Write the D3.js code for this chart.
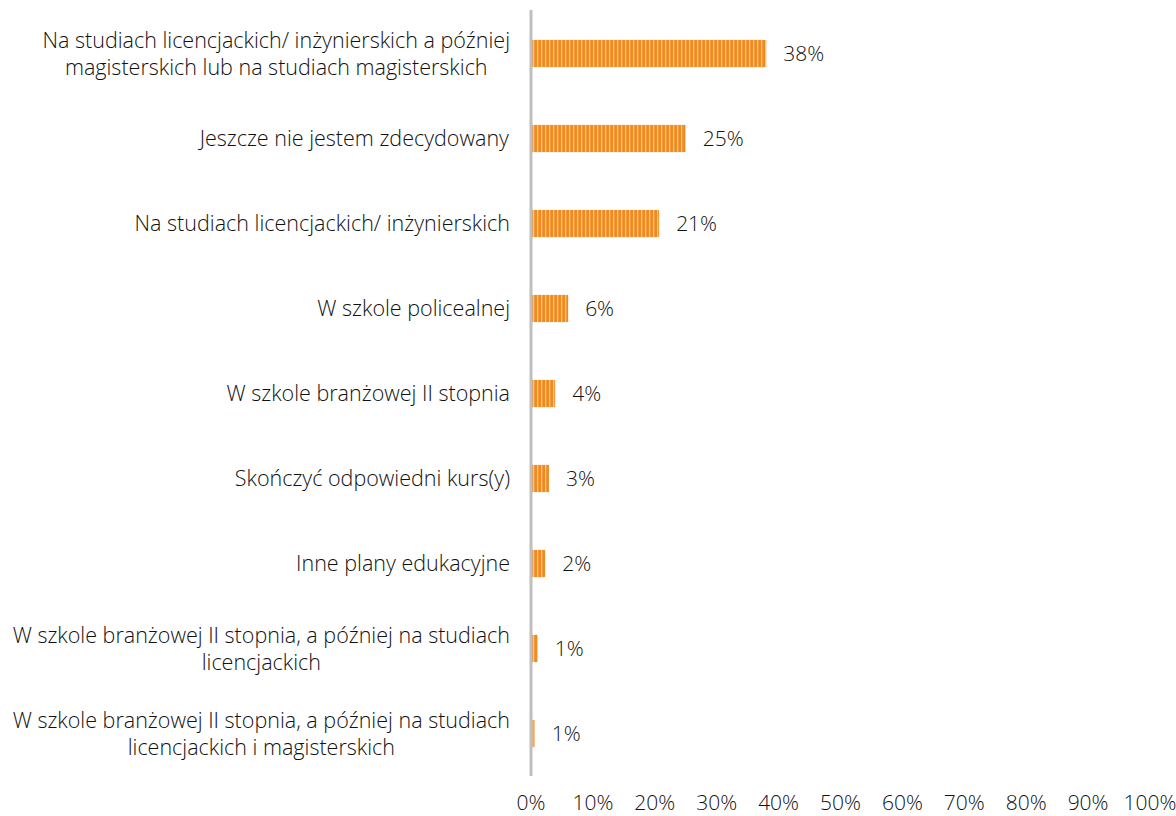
<!DOCTYPE html>
<html>
<head>
<meta charset="utf-8">
<script src="https://cdn.jsdelivr.net/npm/d3@7"></script>
<style>
  body { margin: 0; background: #fff; }
  text { font-family: "Open Sans", sans-serif; font-weight: 300; fill: #111; }
</style>
</head>
<body>
<div id="chart"></div>
<script>
// categories, top to bottom (each entry is a list of label lines)
var categories = [
    ["Na studiach licencjackich/ inżynierskich a później", "magisterskich lub na studiach magisterskich"],
    ["Jeszcze nie jestem zdecydowany"],
    ["Na studiach licencjackich/ inżynierskich"],
    ["W szkole policealnej"],
    ["W szkole branżowej II stopnia"],
    ["Skończyć odpowiedni kurs(y)"],
    ["Inne plany edukacyjne"],
    ["W szkole branżowej II stopnia, a później na studiach", "licencjackich"],
    ["W szkole branżowej II stopnia, a później na studiach", "licencjackich i magisterskich"]
];
var values = [38.0, 25.0, 20.7, 6.0, 3.9, 2.9, 2.3, 1.1, 0.6];
var valueLabels = ["38%", "25%", "21%", "6%", "4%", "3%", "2%", "1%", "1%"];
var ticks = [0, 10, 20, 30, 40, 50, 60, 70, 80, 90, 100];

var screen = {width: 1176, height: 816};
var margins = {top: 11, left: 531, right: 26, bottom: 40};
var graph = {
    width: screen.width - margins.left - margins.right,
    height: screen.height - margins.top - margins.bottom
};

var svg = d3.select("#chart")
    .append("svg")
    .attr("width", screen.width)
    .attr("height", screen.height);

// striped fill like the original
var defs = svg.append("defs");
var pat = defs.append("pattern")
    .attr("id", "stripes")
    .attr("patternUnits", "userSpaceOnUse")
    .attr("width", 4)
    .attr("height", 10);
pat.append("rect").attr("width", 4).attr("height", 10).attr("fill", "#f08a1c");
pat.append("rect").attr("x", 2).attr("width", 1.3).attr("height", 10).attr("fill", "#f8c48c");

var pat2 = defs.append("pattern")
    .attr("id", "stripes2")
    .attr("patternUnits", "userSpaceOnUse")
    .attr("width", 4)
    .attr("height", 10);
pat2.append("rect").attr("width", 4).attr("height", 10).attr("fill", "#f6a95a");

var xScale = d3.scaleLinear()
    .domain([0, 100])
    .range([0, 619]);

var yScale = d3.scaleBand()
    .domain(d3.range(categories.length))
    .range([0, graph.height])
    .paddingInner(0.68)
    .paddingOuter(0.34);

var g = svg.append("g")
    .attr("transform", "translate(" + margins.left + "," + margins.top + ")");

// bars
g.selectAll("rect.bar")
    .data(values)
    .enter()
    .append("rect")
    .attr("class", "bar")
    .attr("x", 0)
    .attr("y", function(d, i) { return yScale(i); })
    .attr("width", function(d) { return xScale(d); })
    .attr("height", yScale.bandwidth())
    .attr("fill", function(d, i) { return i == values.length - 1 ? "url(#stripes2)" : "url(#stripes)"; });

// value labels
g.selectAll("text.val")
    .data(values)
    .enter()
    .append("text")
    .attr("class", "val")
    .attr("x", function(d) { return xScale(d) + 17; })
    .attr("y", function(d, i) { return yScale(i) + yScale.bandwidth() / 2; })
    .attr("dy", "0.35em")
    .style("font-size", "21px")
    .text(function(d, i) { return valueLabels[i]; });

// category labels
var cat = g.selectAll("text.cat")
    .data(categories)
    .enter()
    .append("text")
    .attr("class", "cat")
    .attr("text-anchor", "middle")
    .style("font-size", "21.5px");

cat.each(function(d) {
    var t = d3.select(this);
    d.forEach(function(line, k) {
        t.append("tspan")
            .attr("x", 0)
            .attr("y", (k - (d.length - 1) / 2) * 27)
            .attr("dy", "0.35em")
            .text(line);
    });
});

// right-align the block, centre the lines inside it
cat.each(function(d, i) {
    var w = this.getBBox().width;
    d3.select(this).attr("transform",
        "translate(" + (-21 - w / 2) + "," + (yScale(i) + yScale.bandwidth() / 2) + ")");
});

// x axis tick labels
g.selectAll("text.tick")
    .data(ticks)
    .enter()
    .append("text")
    .attr("class", "tick")
    .attr("text-anchor", "middle")
    .attr("x", function(d) { return xScale(d); })
    .attr("y", 792)
    .attr("dy", "0.35em")
    .style("font-size", "21px")
    .text(function(d) { return d + "%"; });

// vertical axis line
g.append("line")
    .attr("x1", 0)
    .attr("x2", 0)
    .attr("y1", -1)
    .attr("y2", graph.height)
    .attr("stroke", "#bfbfbf")
    .attr("stroke-width", 3);
</script>
</body>
</html>
